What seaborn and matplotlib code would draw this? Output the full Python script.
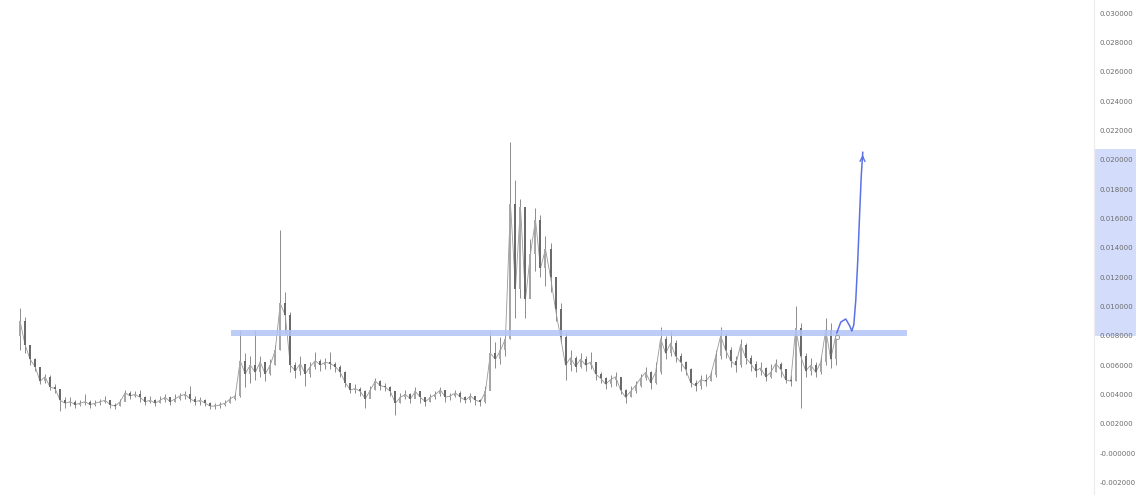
import matplotlib
matplotlib.use("Agg")
import matplotlib.pyplot as plt
import pandas as pd
import numpy as np
import seaborn as sns

# price values in units of 0.001
closes = [9.0, 7.4, 6.4, 5.9, 4.9, 5.2, 4.5, 4.4, 3.6, 3.4,
          3.5, 3.3, 3.4, 3.5, 3.3, 3.4, 3.5, 3.6, 3.3, 3.2,
          3.5, 4.1, 3.9, 4.0, 3.8, 3.5, 3.6, 3.4, 3.6, 3.8,
          3.5, 3.7, 3.9, 4.0, 3.7, 3.5, 3.6, 3.4, 3.2, 3.2,
          3.3, 3.4, 3.7, 3.9, 6.3, 5.4, 6.0, 5.5, 6.2, 5.4,
          6.0, 7.0, 10.2, 9.4, 6.0, 5.6, 6.1, 5.4, 5.9, 6.3,
          6.0, 6.2, 6.1, 5.9, 5.5, 4.8, 4.3, 4.4, 4.2, 3.7,
          4.3, 4.9, 4.6, 4.5, 4.2, 3.4, 3.8, 4.0, 3.7, 4.2,
          3.8, 3.5, 3.8, 4.0, 4.3, 3.8, 3.9, 4.1, 3.8, 3.6,
          3.9, 3.6, 3.5, 4.2, 6.8, 6.4, 7.0, 7.8, 17.0, 11.2,
          16.8, 10.5, 13.6, 15.9, 12.6, 13.9, 12.0, 9.8, 7.9, 6.0,
          6.5, 5.9, 6.4, 6.0, 6.2, 5.4, 5.1, 4.7, 5.0, 5.2,
          4.3, 3.8, 4.2, 4.6, 5.1, 5.5, 4.8, 5.5, 7.8, 6.8,
          7.5, 6.6, 6.2, 5.7, 4.8, 4.6, 5.0, 4.9, 5.3, 6.6,
          8.0, 7.0, 6.3, 6.0, 7.4, 6.5, 6.1, 5.6, 5.8, 5.2,
          5.5, 6.1, 5.7, 5.0, 4.9, 8.5, 6.6, 5.6, 6.0, 5.5,
          6.2, 8.4, 6.4, 8.0]
highs = [9.9, 9.3, 7.2, 6.5, 5.9, 5.4, 5.3, 4.7, 4.4, 3.8,
         3.8, 3.6, 3.6, 4.0, 3.6, 3.6, 3.7, 3.9, 3.6, 3.4,
         3.7, 4.3, 4.2, 4.2, 4.3, 3.9, 3.9, 3.7, 3.9, 4.0,
         3.8, 4.0, 4.1, 4.2, 4.6, 3.9, 3.8, 3.7, 3.5, 3.4,
         3.5, 3.6, 3.9, 4.1, 8.4, 6.8, 6.6, 8.4, 6.6, 6.0,
         6.4, 7.4, 15.2, 11.0, 9.6, 6.2, 6.6, 6.0, 6.2, 6.9,
         6.4, 6.5, 6.9, 6.2, 6.0, 5.6, 4.8, 4.7, 4.5, 4.3,
         4.6, 5.1, 5.0, 4.8, 4.6, 4.2, 4.1, 4.3, 4.1, 4.5,
         4.1, 3.8, 4.0, 4.2, 4.5, 4.3, 4.1, 4.3, 4.2, 3.9,
         4.1, 3.9, 3.7, 4.6, 8.3, 7.6, 7.9, 8.2, 21.2, 18.6,
         17.3, 14.2, 14.6, 16.7, 16.2, 14.8, 14.3, 12.0, 10.2, 8.2,
         7.0, 6.6, 6.8, 6.6, 6.9, 6.2, 5.5, 5.2, 5.3, 5.5,
         5.1, 4.4, 4.6, 4.9, 5.4, 5.9, 5.6, 6.2, 8.6, 8.0,
         8.3, 7.7, 6.8, 6.3, 5.8, 5.0, 5.3, 5.4, 5.6, 7.0,
         8.6, 8.2, 7.2, 6.6, 7.8, 7.5, 6.7, 6.3, 6.2, 5.9,
         6.1, 6.4, 6.2, 5.6, 5.3, 10.0, 8.9, 6.8, 6.5, 6.2,
         6.6, 9.2, 8.9, 8.4]
lows = [7.0, 6.8, 6.0, 5.6, 4.7, 4.8, 4.3, 4.1, 2.9, 3.1,
        3.2, 3.1, 3.2, 3.3, 3.1, 3.2, 3.3, 3.4, 3.1, 3.0,
        3.2, 3.7, 3.7, 3.8, 3.5, 3.3, 3.4, 3.2, 3.4, 3.5,
        3.3, 3.5, 3.6, 3.7, 3.5, 3.3, 3.3, 3.2, 3.0, 3.0,
        3.1, 3.2, 3.4, 3.6, 3.8, 4.5, 4.8, 5.0, 5.2, 4.9,
        5.3, 6.0, 7.0, 8.2, 5.5, 5.1, 5.3, 4.6, 5.2, 5.7,
        5.6, 5.7, 5.7, 5.5, 5.2, 4.5, 4.1, 4.1, 3.9, 3.1,
        3.9, 4.3, 4.3, 4.2, 3.9, 2.6, 3.4, 3.7, 3.4, 3.8,
        3.4, 3.2, 3.5, 3.7, 3.9, 3.5, 3.6, 3.8, 3.5, 3.4,
        3.5, 3.3, 3.2, 3.4, 4.5, 5.8, 6.1, 6.6, 7.8, 9.2,
        10.6, 9.2, 11.0, 12.4, 12.0, 11.4, 11.0, 9.0, 7.5, 5.0,
        5.6, 5.5, 5.8, 5.6, 5.7, 5.0, 4.8, 4.4, 4.5, 4.6,
        4.0, 3.4, 3.8, 4.1, 4.5, 5.0, 4.4, 4.7, 5.4, 6.4,
        6.6, 6.2, 5.6, 5.3, 4.5, 4.2, 4.4, 4.6, 4.9, 5.2,
        6.4, 6.5, 5.9, 5.5, 5.9, 6.1, 5.6, 5.2, 5.3, 4.9,
        5.1, 5.5, 5.2, 4.8, 4.6, 4.9, 3.1, 5.2, 5.3, 5.2,
        5.4, 6.0, 5.8, 6.0]
first_open = 8.0

y_ticks = [-0.002, 0.0, 0.002, 0.004, 0.006, 0.008, 0.010, 0.012, 0.014, 0.016,
           0.018, 0.020, 0.022, 0.024, 0.026, 0.028, 0.030]

# support zone and projected move
zone_low, zone_high = 0.0080, 0.0084
zone_start, zone_end = 42.2, 177.2
target_low, target_high = 0.0080, 0.0207
arrow_x = [163.2, 164.0, 165.0, 165.8, 166.2, 166.6, 167.0, 167.4, 167.8, 168.1, 168.4]
arrow_y = [8.18, 8.93, 9.14, 8.66, 8.32, 8.73, 10.43, 13.16, 16.57, 18.95, 20.52]

df = pd.DataFrame({"close": closes, "high": highs, "low": lows}) * 0.001
df["open"] = df["close"].shift(1).fillna(first_open * 0.001)
df["i"] = np.arange(len(df))
df["up"] = df["close"] >= df["open"]

sns.set_theme(style="white")
plt.rcParams["font.family"] = ["DejaVu Sans"]

fig = plt.figure(figsize=(11.36, 4.95), dpi=100)
ax = fig.add_axes([0, 0, 1094 / 1136, 1])

ax.vlines(df["i"], df["low"], df["high"], color="#8c8c8c", lw=0.7, zorder=2)
sns.lineplot(data=df, x="i", y="close", color="#999999", lw=0.6, ax=ax, zorder=2)
colors = np.where(df["up"], "#a6a6a6", "#6a6a6a")
ax.bar(df["i"], (df["close"] - df["open"]).abs().clip(lower=0.00005),
       bottom=df[["open", "close"]].min(axis=1), width=0.4, color=colors,
       lw=0, zorder=3)

ax.fill_between([zone_start, zone_end], zone_low, zone_high, color="#b3c5f6",
                alpha=0.85, lw=0, zorder=4)

ax.plot(arrow_x, np.array(arrow_y) * 0.001, color="#5b72e6", lw=1.1, zorder=5)
ax.annotate("", xy=(arrow_x[-1], arrow_y[-1] * 0.001),
            xytext=(arrow_x[-1] - 0.05, arrow_y[-1] * 0.001 - 0.0005),
            arrowprops=dict(arrowstyle="->", color="#5b72e6", lw=1.0,
                            mutation_scale=9), zorder=5)
ax.plot(arrow_x[0], arrow_y[0] * 0.001 - 0.0003, "o", ms=3, mfc="white",
        mec="#9a9a9a", mew=0.7, zorder=6)

span = ax.axhspan(target_low, target_high, xmin=1, xmax=1136 / 1094,
                  color="#d3ddfb", lw=0, zorder=0)
span.set_clip_on(False)

ax.set_xlim(-4, 214.6)
ax.set_ylim(-0.00286, 0.03089)
ax.yaxis.tick_right()
ax.set_yticks(y_ticks)
ax.set_yticklabels(["-0.000000" if abs(t) < 1e-12 else f"{t:.6f}" for t in y_ticks])
ax.tick_params(axis="y", length=0, pad=4, labelsize=5, labelcolor="#6b6b6b")
ax.set_xticks([])
ax.set_xlabel("")
ax.set_ylabel("")
for side in ["top", "left", "bottom"]:
    ax.spines[side].set_visible(False)
ax.spines["right"].set_color("#ececec")
ax.spines["right"].set_linewidth(0.8)

fig.savefig("out.png", dpi=100)
